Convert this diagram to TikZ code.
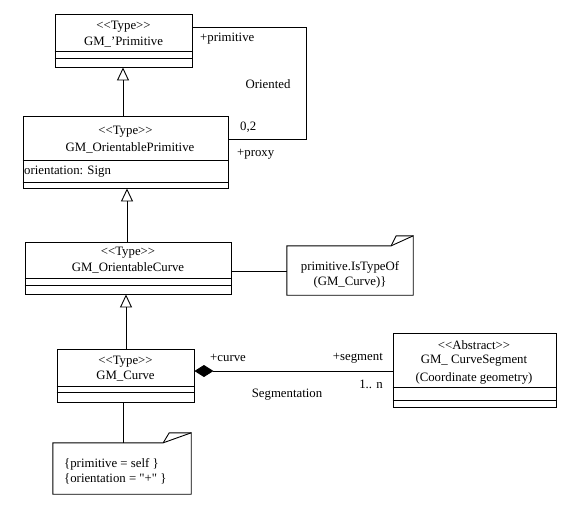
\documentclass[tikz,border=0pt]{standalone}
\usepackage{fontspec}
\setmainfont{Liberation Serif}[Ligatures=TeXOff]
\usetikzlibrary{arrows.meta}
\newcommand{\stereo}[1]{<<#1>>}
\begin{document}
\begin{tikzpicture}[x=1pt,y=-1pt,
  every node/.style={font=\fontsize{12.8}{15}\selectfont, inner sep=0pt},
  classbox/.style={draw, line width=0.9pt, rectangle},
  comp/.style={line width=0.9pt},
  conn/.style={line width=0.9pt},
  gen/.style={line width=0.9pt, -{Triangle[open, length=13pt, width=12pt, line width=0.9pt]}},
  compo/.style={line width=0.9pt, {Diamond[length=19pt, width=12pt]}-},
  notebox/.style={rectangle}]
\useasboundingbox (0,0) rectangle (577,507);
% classes
\node[classbox, minimum width=137pt, minimum height=53pt] (prim) at (123.5,40.5) {};
\node[classbox, minimum width=205pt, minimum height=72pt] (oprim) at (125.5,152) {};
\node[classbox, minimum width=206pt, minimum height=52pt] (ocurve) at (128,268) {};
\node[classbox, minimum width=137pt, minimum height=53pt] (curve) at (125.5,375.5) {};
\node[classbox, minimum width=163pt, minimum height=74pt] (seg) at (474.5,370) {};
% compartments
\draw[comp] (prim.west |- 0,51) -- (prim.east |- 0,51);
\draw[comp] (prim.west |- 0,58) -- (prim.east |- 0,58);
\draw[comp] (oprim.west |- 0,160) -- (oprim.east |- 0,160);
\draw[comp] (oprim.west |- 0,182) -- (oprim.east |- 0,182);
\draw[comp] (ocurve.west |- 0,278) -- (ocurve.east |- 0,278);
\draw[comp] (ocurve.west |- 0,285) -- (ocurve.east |- 0,285);
\draw[comp] (curve.west |- 0,386) -- (curve.east |- 0,386);
\draw[comp] (curve.west |- 0,392) -- (curve.east |- 0,392);
\draw[comp] (seg.west |- 0,387) -- (seg.east |- 0,387);
\draw[comp] (seg.west |- 0,400) -- (seg.east |- 0,400);
% class texts
\node (t1a) at (123.5,27) {\stereo{Type}};
\node (t1b) at (123.5,42) {GM\_’Primitive};
\node (t2a) at (125.5,132) {\stereo{Type}};
\node (t2b) at (130,148) {GM\_OrientablePrimitive};
\node[anchor=west] (t2c) at (24,172) {orientation: Sign};
\node (t3a) at (128,253) {\stereo{Type}};
\node (t3b) at (128,268) {GM\_OrientableCurve};
\node (t4a) at (125.5,362) {\stereo{Type}};
\node (t4b) at (125.5,376) {GM\_Curve};
\node (t5a) at (474,345) {\stereo{Abstract}};
\node (t5b) at (474,361) {GM\_ CurveSegment};
\node (t5c) at (474,378) {(Coordinate geometry)};
% notes
\node[notebox, minimum width=126pt, minimum height=49pt] (n1) at (350,270.5) {};
\draw[conn] (n1.north west) -- ([xshift=-22pt]n1.north east) -- ([yshift=10pt]n1.north east) -- (n1.south east) -- (n1.south west) -- cycle;
\draw[conn] ([xshift=-22pt]n1.north east) -- ([xshift=-17pt,yshift=10pt]n1.north east) -- ([yshift=10pt]n1.north east);
\node (n1a) at (350,267) {primitive.IsTypeOf};
\node (n1b) at (350,282) {(GM\_Curve)\}};
\node[notebox, minimum width=138pt, minimum height=51pt] (n2) at (122,468.5) {};
\draw[conn] (n2.north west) -- ([xshift=-28pt]n2.north east) -- ([yshift=10pt]n2.north east) -- (n2.south east) -- (n2.south west) -- cycle;
\draw[conn] ([xshift=-28pt]n2.north east) -- ([xshift=-22pt,yshift=10pt]n2.north east) -- ([yshift=10pt]n2.north east);
\node[anchor=west] (n2a) at (64,464) {\{primitive = self \}};
\node[anchor=west] (n2b) at (64,479) {\{orientation = "+" \}};
% generalizations
\draw[gen] (oprim.north -| 123,0) -- (prim.south -| 123,0);
\draw[gen] (ocurve.north -| 127,0) -- (oprim.south -| 127,0);
\draw[gen] (curve.north -| 126,0) -- (ocurve.south -| 126,0);
% Oriented association
\coordinate (c1) at (306,27);
\coordinate (c2) at (306,139);
\draw[conn] (prim.east |- c1) -- (c1) -- (c2) -- (oprim.east |- c2);
\node[anchor=west] (l1) at (200,39) {+primitive};
\node (l2) at (268,84) {Oriented};
\node[anchor=west] (l3) at (240,127) {0,2};
\node[anchor=west] (l4) at (237,154) {+proxy};
% note links
\draw[conn] (ocurve.east |- 0,271) -- (n1.west |- 0,271);
\draw[conn] (curve.south -| 123,0) -- (n2.north -| 123,0);
% composition
\draw[compo] (curve.east |- 0,371) -- (seg.west |- 0,371);
\node[anchor=west] (l5) at (210,358) {+curve};
\node[anchor=east] (l6) at (383,358) {+segment};
\node[anchor=east] (l7) at (383,384) {1.. n};
\node (l8) at (287,395) {Segmentation};
\end{tikzpicture}
\end{document}
